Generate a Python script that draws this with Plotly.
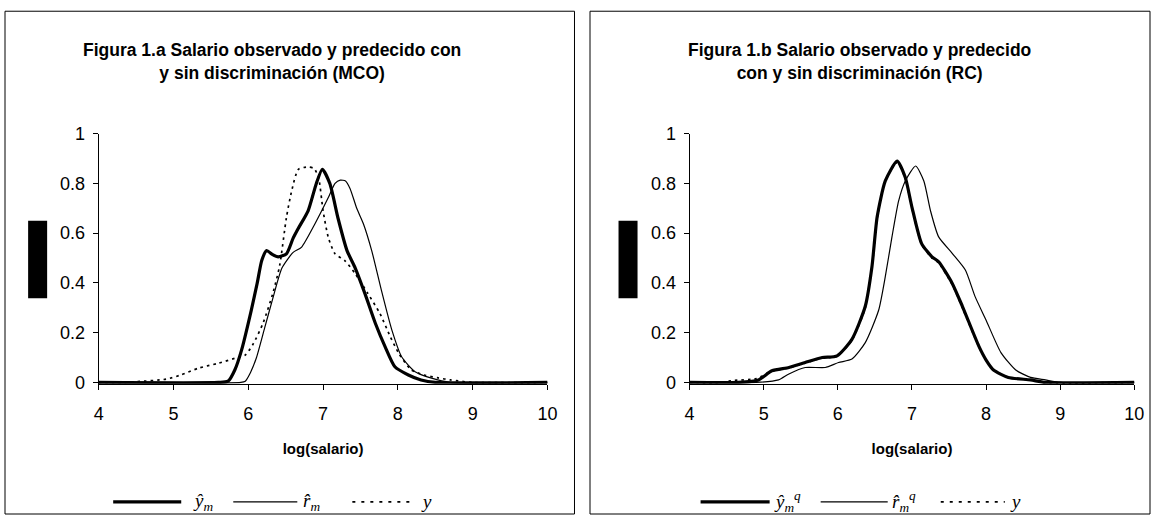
import plotly.graph_objects as go

W, H = 1160, 523
# The captured page is 8px body margin + figure, rescaled to the 1160x523 picture.
KX, KY = 1160 / 1176, 523 / 539
OFF = 8

# ---------------- data ----------------
# Panel a (MCO)
mco_pred_x = [4.0, 5.6, 5.73, 5.82, 5.91, 6.04, 6.12, 6.18, 6.245, 6.32, 6.40, 6.51, 6.60, 6.67, 6.80, 6.91,
              6.99, 7.09, 7.20, 7.32, 7.43, 7.56, 7.70, 7.83, 7.96, 8.14, 8.31, 8.5, 10.0]
mco_pred_y = [0, 0, 0.005, 0.05, 0.13, 0.29, 0.40, 0.49, 0.53, 0.515, 0.505, 0.517, 0.58, 0.62, 0.69, 0.80,
              0.857, 0.80, 0.66, 0.53, 0.46, 0.357, 0.237, 0.143, 0.063, 0.03, 0.01, 0, 0]

mco_nd_x = [4.0, 5.9, 5.96, 6.03, 6.11, 6.22, 6.33, 6.45, 6.60, 6.71, 6.89, 7.07, 7.16, 7.23, 7.30, 7.36,
            7.45, 7.54, 7.65, 7.78, 7.92, 8.05, 8.23, 8.45, 8.7, 10.0]
mco_nd_y = [0, 0, 0.005, 0.04, 0.10, 0.22, 0.34, 0.46, 0.523, 0.543, 0.637, 0.743, 0.80, 0.813, 0.81, 0.78,
            0.70, 0.637, 0.53, 0.37, 0.21, 0.103, 0.043, 0.017, 0, 0]

mco_obs_x = [4.0, 4.3, 4.5, 4.9, 5.1, 5.33, 5.6, 5.82, 5.96, 6.07, 6.2, 6.33, 6.42, 6.51, 6.58, 6.67, 6.80,
             6.88, 6.94, 7.00, 7.07, 7.16, 7.29, 7.43, 7.60, 7.76, 7.90, 8.01, 8.18, 8.35, 8.54, 8.7, 9.0, 10.0]
mco_obs_y = [0, 0, 0.003, 0.013, 0.03, 0.057, 0.077, 0.097, 0.11, 0.157, 0.24, 0.36, 0.47, 0.663, 0.77, 0.857,
             0.866, 0.86, 0.823, 0.69, 0.583, 0.517, 0.49, 0.437, 0.357, 0.277, 0.183, 0.118, 0.05, 0.03,
             0.018, 0.01, 0, 0]

# Panel b (RC)
rc_pred_x = [4.0, 4.66, 4.93, 5.11, 5.34, 5.56, 5.79, 5.99, 6.19, 6.37, 6.46, 6.53, 6.64, 6.80, 6.91, 7.00,
             7.13, 7.27, 7.36, 7.54, 7.68, 7.90, 8.0, 8.1, 8.3, 8.6, 8.8, 10.0]
rc_pred_y = [0, 0, 0.01, 0.047, 0.06, 0.08, 0.10, 0.107, 0.173, 0.306, 0.465, 0.665, 0.81, 0.89, 0.824, 0.704,
             0.558, 0.505, 0.485, 0.40, 0.306, 0.147, 0.09, 0.05, 0.02, 0.01, 0, 0]

rc_nd_x = [4.0, 4.9, 5.2, 5.34, 5.56, 5.83, 6.01, 6.19, 6.37, 6.55, 6.64, 6.73, 6.82, 6.91, 7.05, 7.16,
           7.25, 7.36, 7.54, 7.72, 7.85, 8.0, 8.2, 8.4, 8.6, 8.8, 9.0, 10.0]
rc_nd_y = [0, 0, 0.01, 0.034, 0.06, 0.06, 0.08, 0.094, 0.16, 0.29, 0.425, 0.585, 0.73, 0.81, 0.87, 0.81,
           0.69, 0.585, 0.52, 0.452, 0.346, 0.25, 0.12, 0.05, 0.02, 0.01, 0, 0]

rc_obs_x = [4.0, 4.4, 4.6, 4.9, 5.1, 5.34, 5.56, 5.79, 5.99, 6.19, 6.37, 6.46, 6.53, 6.64, 6.80, 6.91, 7.00,
            7.13, 7.27, 7.36, 7.54, 7.68, 7.90, 8.0, 8.1, 8.3, 8.6, 8.8, 10.0]
rc_obs_y = [0, 0, 0.008, 0.015, 0.045, 0.058, 0.078, 0.098, 0.105, 0.17, 0.30, 0.46, 0.66, 0.81, 0.885, 0.82,
            0.70, 0.555, 0.50, 0.48, 0.395, 0.30, 0.145, 0.09, 0.05, 0.02, 0.01, 0, 0]

x_ticks = [4, 5, 6, 7, 8, 9, 10]
y_ticks = [0, 0.2, 0.4, 0.6, 0.8, 1]
y_tick_text = ["0", "0.2", "0.4", "0.6", "0.8", "1"]

titles = ["Figura 1.a Salario observado y predecido con<br>y sin discriminación (MCO)",
          "Figura 1.b Salario observado y predecido<br>con y sin discriminación (RC)"]
x_title = "log(salario)"
legend_a = ["ŷ<sub>m</sub>", "r̂<sub>m</sub>", "y"]
legend_b = ["ŷ<sub>m</sub><sup>q</sup>", "r̂<sub>m</sub><sup>q</sup>", "y"]

# ---------------- helpers (picture pixel -> paper fraction) ----------------
def px(x):
    return min(max((x / KX - OFF) / W, 0.0), 1.0)

def py(y):
    return min(max(1 - (y / KY - OFF) / H, 0.0), 1.0)

FONT = "Liberation Sans, Arial, sans-serif"
THICK = dict(color="black", width=3.2, shape="spline", smoothing=0.6)
THIN = dict(color="black", width=1.2, shape="spline", smoothing=0.6)
DOT = dict(color="black", width=1.7, dash="2.5px,4px", shape="spline", smoothing=0.6)

fig = go.Figure()
panels = [
    ("x", "y", mco_obs_x, mco_obs_y, mco_nd_x, mco_nd_y, mco_pred_x, mco_pred_y),
    ("x2", "y2", rc_obs_x, rc_obs_y, rc_nd_x, rc_nd_y, rc_pred_x, rc_pred_y),
]
for xa, ya, ox, oy, nx, ny, pxs, pys in panels:
    fig.add_trace(go.Scatter(x=ox, y=oy, mode="lines", line=DOT, xaxis=xa, yaxis=ya, showlegend=False))
    fig.add_trace(go.Scatter(x=nx, y=ny, mode="lines", line=THIN, xaxis=xa, yaxis=ya, showlegend=False))
    fig.add_trace(go.Scatter(x=pxs, y=pys, mode="lines", line=THICK, xaxis=xa, yaxis=ya, showlegend=False))

plot_top, plot_bot = 132.3, 384.0
dom_y = [py(plot_bot), py(plot_top)]
dom_x1 = [px(101.5), px(550.0)]
dom_x2 = [px(692.0), px(1136.5)]

def xaxis(domain, anchor):
    return dict(domain=domain, anchor=anchor, range=[4, 10], tickvals=x_ticks, showgrid=False, zeroline=False,
                showline=True, linecolor="black", linewidth=1, ticks="outside", ticklen=5, tickcolor="black",
                tickfont=dict(family=FONT, size=18, color="black"), ticklabelstandoff=9,
                title=dict(text="<b>" + x_title + "</b>", font=dict(family=FONT, size=15, color="black"),
                           standoff=20))

def yaxis(anchor):
    return dict(domain=dom_y, anchor=anchor, range=[-0.005, 1], tickvals=y_ticks, ticktext=y_tick_text,
                showgrid=False, zeroline=False, showline=True, linecolor="black", linewidth=1,
                ticks="outside", ticklen=5, tickcolor="black", ticklabelstandoff=4,
                tickfont=dict(family=FONT, size=18, color="black"))

fig.update_layout(
    width=W, height=H, autosize=False,
    margin=dict(l=0, r=0, t=0, b=0),
    paper_bgcolor="white", plot_bgcolor="white",
    xaxis=xaxis(dom_x1, "y"), yaxis=yaxis("x"),
    xaxis2=xaxis(dom_x2, "y2"), yaxis2=yaxis("x2"),
)

shapes = []
annotations = []
# panel borders
for x0, x1 in [(7.5, 577), (592.5, 1152.5)]:
    shapes.append(dict(type="rect", xref="paper", yref="paper", x0=px(x0), x1=px(x1), y0=py(560), y1=py(9),
                       line=dict(color="black", width=1), fillcolor="rgba(0,0,0,0)", layer="below"))
# black blocks
for x0, x1 in [(31, 50), (621, 640)]:
    shapes.append(dict(type="rect", xref="paper", yref="paper", x0=px(x0), x1=px(x1), y0=py(298), y1=py(220),
                       line=dict(width=0), fillcolor="black"))
# titles
for cx, t in [(275, titles[0]), (862, titles[1])]:
    annotations.append(dict(xref="paper", yref="paper", x=px(cx), y=py(59.5), text="<b>" + t + "</b>",
                            showarrow=False, xanchor="center", yanchor="middle",
                            font=dict(family=FONT, size=17.5, color="black")))

# legends
leg_y = 503
leg_specs = [
    (legend_a, [(116, 184, 3.2, "solid"), (236, 300, 1.2, "solid"), (355, 417, 1.7, "3px,6px")], [194, 304, 422]),
    (legend_b, [(703, 772, 3.2, "solid"), (823, 890, 1.2, "solid"), (943, 1007, 1.7, "3px,6px")], [774, 892, 1010]),
]
for labels, lines, lab_x in leg_specs:
    for (x0, x1, w, d), lab, lx in zip(lines, labels, lab_x):
        shapes.append(dict(type="line", xref="paper", yref="paper", x0=px(x0), x1=px(x1), y0=py(leg_y),
                           y1=py(leg_y), line=dict(color="black", width=w, dash=d)))
        annotations.append(dict(xref="paper", yref="paper", x=px(lx), y=py(leg_y), text="<i>" + lab + "</i>",
                                showarrow=False, xanchor="left", yanchor="middle",
                                font=dict(family="Liberation Serif, Times New Roman, serif", size=19,
                                          color="black")))

fig.update_layout(shapes=shapes, annotations=annotations)
fig.write_html("out.html")
